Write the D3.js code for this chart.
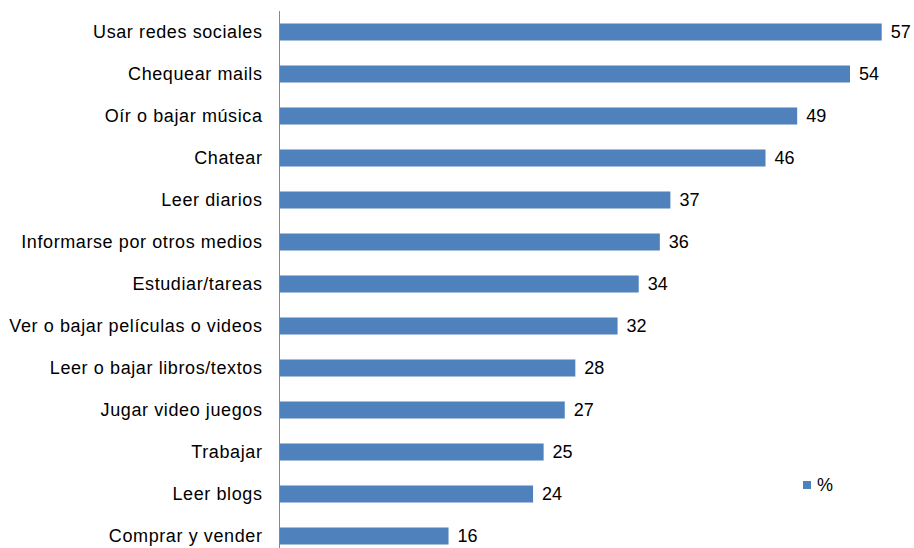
<!DOCTYPE html>
<html>
<head>
<meta charset="utf-8">
<script src="https://cdnjs.cloudflare.com/ajax/libs/d3/7.8.5/d3.min.js"></script>
<style>
  body { margin: 0; background: #fff; }
  svg text { font-family: "Liberation Sans", Arial, sans-serif; fill: #000; }
</style>
</head>
<body>
<svg id="chart" width="914" height="548"></svg>
<script>
// data
var activities = [
    'Usar redes sociales', 'Chequear mails', 'Oír o bajar música', 'Chatear',
    'Leer diarios', 'Informarse por otros medios', 'Estudiar/tareas',
    'Ver o bajar películas o videos', 'Leer o bajar libros/textos',
    'Jugar video juegos', 'Trabajar', 'Leer blogs', 'Comprar y vender'
];
var percents = [57, 54, 49, 46, 37, 36, 34, 32, 28, 27, 25, 24, 16];
var seriesName = '%';

var barColor = '#4F81BD';

var svg = d3.select('#chart');

var x = d3.scaleLinear()
    .domain([0, 57])
    .range([279.5, 881.7]);

var y = d3.scaleBand()
    .domain(activities)
    .range([11, 557])
    .paddingInner(0.595)
    .paddingOuter(0.2975);

var rows = activities.map(function (d, i) {
    return { name: d, value: percents[i] };
});

// bars
svg.append('g')
    .selectAll('rect')
    .data(rows)
    .enter()
    .append('rect')
    .attr('x', x(0))
    .attr('y', function (d) { return y(d.name); })
    .attr('width', function (d) { return x(d.value) - x(0); })
    .attr('height', y.bandwidth())
    .attr('fill', barColor);

// value labels
svg.append('g')
    .selectAll('text')
    .data(rows)
    .enter()
    .append('text')
    .attr('x', function (d) { return x(d.value) + 9; })
    .attr('y', function (d) { return y(d.name) + y.bandwidth() / 2; })
    .attr('dy', '0.36em')
    .attr('font-size', 18)
    .text(function (d) { return d.value; });

// category axis
var axis = svg.append('g')
    .attr('transform', 'translate(' + x(0) + ',0)')
    .call(d3.axisLeft(y).tickSize(0).tickPadding(17));
axis.select('.domain')
    .attr('d', 'M0,11V548')
    .attr('stroke', '#888');
axis.selectAll('text')
    .attr('font-size', 18)
    .attr('letter-spacing', '0.6px')
    .attr('font-family', '"Liberation Sans", Arial, sans-serif')
    .attr('fill', '#000');

// legend
var legend = svg.append('g').attr('transform', 'translate(803,481)');
legend.append('rect')
    .attr('width', 8)
    .attr('height', 8)
    .attr('fill', barColor);
legend.append('text')
    .attr('x', 14)
    .attr('y', 4)
    .attr('dy', '0.36em')
    .attr('font-size', 18)
    .text(seriesName);
</script>
</body>
</html>
